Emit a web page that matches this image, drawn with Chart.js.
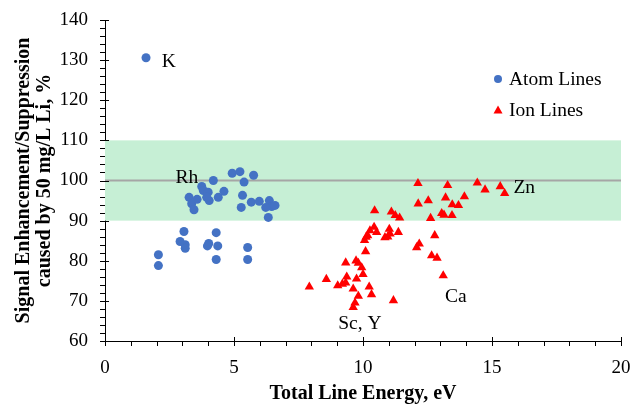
<!DOCTYPE html>
<html>
<head>
<meta charset="utf-8">
<script src="https://cdn.jsdelivr.net/npm/chart.js@4/dist/chart.umd.min.js"></script>
<style>
    html, body { margin: 0; padding: 0; background: #ffffff; }
    #wrap { width: 632px; height: 404px; position: relative; }
</style>
</head>
<body>
<div id="wrap"><canvas id="scatterGraph"></canvas></div>
<script>
// atom lines (blue circles)
const atomEnergy = [1.59, 2.07, 2.07, 3.06, 2.91, 3.11, 3.11, 4.31, 4.02, 3.97, 4.37, 4.31, 5.53, 5.53,
    4.20, 4.93, 5.23, 5.39, 5.76, 3.75, 3.81, 4.00, 4.04, 3.94, 4.39, 4.61, 3.26, 3.36, 3.45, 3.57,
    5.33, 5.28, 5.67, 5.98, 6.37, 6.46, 6.23, 6.59, 6.33]
const atomSignal = [130.6, 81.5, 78.8, 87.3, 84.8, 84.0, 83.1, 87.0, 84.3, 83.7, 83.7, 80.3, 83.3, 80.3,
    100.0, 101.8, 102.2, 99.6, 101.3, 98.5, 97.5, 97.1, 95.0, 95.8, 95.8, 97.3, 95.8, 94.2, 92.7, 95.3,
    96.3, 93.3, 94.6, 94.8, 95.0, 93.5, 93.3, 93.8, 90.8]

// ion lines (red triangles)
const ionEnergy = [7.92, 8.58, 9.02, 9.20, 9.33, 9.37, 9.33, 9.62, 9.75, 9.73, 9.82, 9.95, 10.00, 9.82, 9.69, 9.62,
    10.10, 10.06, 10.12, 10.18, 10.27, 10.43, 10.53, 10.45, 10.24, 10.33, 10.85, 10.96, 11.02, 11.05, 11.37,
    11.10, 11.25, 11.42, 11.18, 12.08, 12.18, 12.14, 12.13, 12.53, 12.62, 12.78, 12.66, 12.87, 13.11,
    13.05, 13.14, 13.45, 13.20, 13.28, 13.46, 13.70, 13.93, 14.43, 14.73, 15.32, 15.49]
const ionSignal = [73.5, 75.4, 73.8, 74.2, 74.5, 76.0, 79.5, 73.0, 75.5, 80.0, 79.4, 78.3, 76.6, 71.2, 69.5, 68.4,
    82.3, 85.1, 85.9, 86.3, 87.5, 88.4, 87.1, 92.5, 73.5, 71.6, 85.8, 86.0, 87.9, 86.7, 87.1,
    92.2, 91.3, 90.7, 70.1, 83.3, 84.2, 94.2, 99.3, 95.0, 90.6, 86.3, 81.3, 80.7, 76.3,
    91.8, 91.4, 91.3, 95.7, 98.8, 94.0, 93.8, 96.0, 99.4, 97.7, 98.5, 96.8]

// element labels written next to the points
const noteText = ["K", "Rh", "Zn", "Ca", "Sc, Y"]
const noteX = [2.2, 3.17, 15.83, 13.6, 9.88]
const noteY = [129.8, 100.9, 98.5, 71.25, 64.6]
const noteAlign = ["left", "center", "left", "center", "center"]

// tolerance band and reference line
const bandLow = 90
const bandHigh = 110
const refLine = 100

const serif = "'Liberation Serif', 'Times New Roman', serif"

function toPoints(xs, ys){
    let pts = []
    for(let i = 0; i < xs.length; i++){
        pts.push({x: xs[i], y: ys[i]})
    }
    return pts
}

// green band + grey line behind the points
const bandPlugin = {
    id: "band",
    beforeDatasetsDraw(chart){
        let ctx = chart.ctx
        let y = chart.scales.y
        let area = chart.chartArea
        ctx.save()
        ctx.fillStyle = "#c6efd5"
        let top = y.getPixelForValue(bandHigh)
        let bot = y.getPixelForValue(bandLow)
        ctx.fillRect(area.left, top, area.right - area.left, bot - top)
        ctx.strokeStyle = "#a6a6a6"
        ctx.lineWidth = 2
        ctx.beginPath()
        ctx.moveTo(area.left, y.getPixelForValue(refLine))
        ctx.lineTo(area.right, y.getPixelForValue(refLine))
        ctx.stroke()
        ctx.restore()
    }
}

// excel style tick marks, labels and legend
const extrasPlugin = {
    id: "extras",
    afterDraw(chart){
        let ctx = chart.ctx
        let x = chart.scales.x
        let y = chart.scales.y
        let area = chart.chartArea
        ctx.save()
        ctx.strokeStyle = "#000000"
        ctx.lineWidth = 1
        ctx.beginPath()
        // x ticks, major every 5, minor every 1
        for(let v = 0; v <= 20; v++){
            let px = Math.round(x.getPixelForValue(v)) + 0.5
            if (v % 5 == 0){
                ctx.moveTo(px, area.bottom - 4)
            } else {
                ctx.moveTo(px, area.bottom)
            }
            ctx.lineTo(px, area.bottom + 5)
        }
        // y ticks, major every 10, minor every 2
        for(let v = 60; v <= 140; v += 2){
            let py = Math.round(y.getPixelForValue(v)) + 0.5
            ctx.moveTo(area.left - 5, py)
            if (v % 10 == 0){
                ctx.lineTo(area.left + 4, py)
            } else {
                ctx.lineTo(area.left, py)
            }
        }
        ctx.stroke()

        // element labels
        ctx.fillStyle = "#000000"
        ctx.font = "19.5px " + serif
        ctx.textBaseline = "middle"
        for(let i = 0; i < noteText.length; i++){
            ctx.textAlign = noteAlign[i]
            ctx.fillText(noteText[i], x.getPixelForValue(noteX[i]), y.getPixelForValue(noteY[i]) + 1)
        }

        // legend
        let lx = area.right - 123
        let ly = area.top + 59
        ctx.textAlign = "left"
        ctx.fillStyle = "#4472c4"
        ctx.beginPath()
        ctx.arc(lx, ly, 4, 0, Math.PI * 2)
        ctx.fill()
        ctx.fillStyle = "#000000"
        ctx.fillText("Atom Lines", lx + 11, ly + 1)
        ly = ly + 31
        ctx.fillStyle = "#ff0000"
        ctx.beginPath()
        ctx.moveTo(lx, ly - 4.5)
        ctx.lineTo(lx + 4.5, ly + 3.5)
        ctx.lineTo(lx - 4.5, ly + 3.5)
        ctx.closePath()
        ctx.fill()
        ctx.fillStyle = "#000000"
        ctx.fillText("Ion Lines", lx + 11, ly + 1)
        ctx.restore()
    }
}

let scatterGraph = new Chart("scatterGraph", {
    type: "scatter",
    data: {
        datasets: [{
            label: "Atom Lines",
            data: toPoints(atomEnergy, atomSignal),
            pointStyle: "circle",
            pointRadius: 4.5,
            pointHoverRadius: 4.5,
            backgroundColor: "#4472c4",
            borderColor: "#4472c4",
            borderWidth: 0
        }, {
            label: "Ion Lines",
            data: toPoints(ionEnergy, ionSignal),
            pointStyle: "triangle",
            pointRadius: 5.4,
            pointHoverRadius: 5.4,
            backgroundColor: "#ff0000",
            borderColor: "#ff0000",
            borderWidth: 0
        }]
    },
    options: {
        responsive: true,
        maintainAspectRatio: false,
        animation: false,
        events: [],
        layout: {
            padding: {top: 20, right: 11, left: 0, bottom: 0}
        },
        plugins: {
            legend: {display: false},
            tooltip: {enabled: false}
        },
        scales: {
            x: {
                type: "linear",
                min: 0,
                max: 20,
                // fixed size, and stop the end labels from pushing the plot in
                afterFit(scale){
                    scale.height = 63
                    scale.paddingLeft = 0
                    scale.paddingRight = 0
                },
                grid: {display: false, drawTicks: false},
                border: {display: true, color: "#000000", width: 1},
                ticks: {
                    stepSize: 5,
                    padding: 16,
                    color: "#000000",
                    font: {family: serif, size: 19}
                },
                title: {
                    display: true,
                    text: "Total Line Energy, eV",
                    color: "#000000",
                    font: {family: serif, size: 20, weight: "bold", lineHeight: 1.1},
                    padding: {top: 0, bottom: -1}
                }
            },
            y: {
                type: "linear",
                min: 60,
                max: 140,
                afterFit(scale){
                    scale.width = 105
                    scale.paddingTop = 0
                    scale.paddingBottom = 0
                },
                grid: {display: false, drawTicks: false},
                border: {display: true, color: "#000000", width: 1},
                ticks: {
                    stepSize: 10,
                    padding: 17,
                    color: "#000000",
                    font: {family: serif, size: 19}
                },
                title: {
                    display: true,
                    text: ["Signal Enhancement/Suppression", "caused by 50 mg/L Li, %"],
                    color: "#000000",
                    font: {family: serif, size: 20, weight: "bold", lineHeight: 1.05},
                    padding: {top: 13.5, bottom: 0}
                }
            }
        }
    },
    plugins: [bandPlugin, extrasPlugin]
})
</script>
</body>
</html>
